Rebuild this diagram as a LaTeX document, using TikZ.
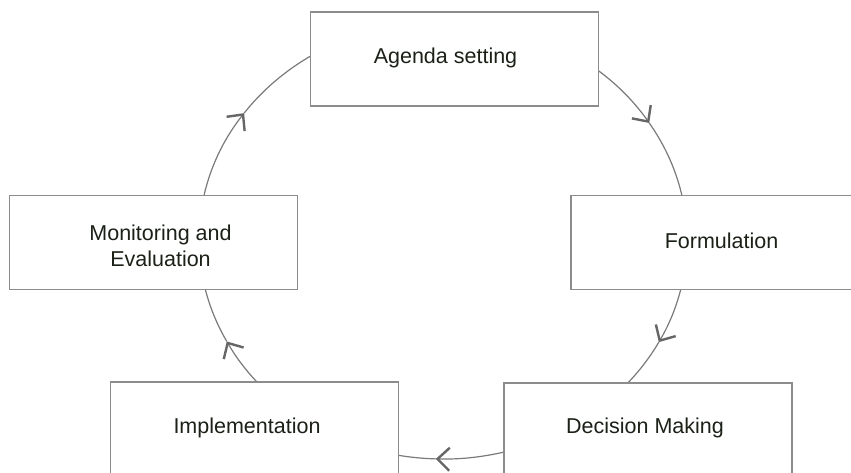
\documentclass[tikz,border=0pt]{standalone}
\usepackage{fontspec}
\setmainfont{Liberation Sans}
\usetikzlibrary{arrows.meta,calc,backgrounds}
\definecolor{boxline}{HTML}{8C8C8C}
\definecolor{cycleline}{HTML}{7A7A7A}
\definecolor{tipline}{HTML}{666666}
\definecolor{labeltext}{HTML}{1B2117}
\begin{document}
\begin{tikzpicture}[x=1pt,y=1pt,
  stage/.style={draw=boxline, line width=1.4pt, fill=white,
    minimum width=288pt, minimum height=94pt, inner sep=0pt},
  stagelabel/.style={text=labeltext, font=\fontsize{21.5}{26}\selectfont,
    align=center, anchor=base, inner sep=0pt},
  flow/.style={draw=cycleline, line width=1.2pt},
  flowtip/.style={flow,
    -{Straight Barb[length=12pt, width=23pt, line width=2.4pt, color=tipline]}},
  orbit/.style={x radius=244pt, y radius=219pt}
]
\useasboundingbox (0,0) rectangle (851,472);

% centre of the elliptical cycle
\coordinate (hub) at (443,232);

% the five stages
\node[stage] (agenda)    at (454.5,413)  {};
\node[stage] (formul)    at (715,229.5)  {};
\node[stage] (decision)  at (648,42)     {};
\node[stage] (implement) at (254.5,43)   {};
\node[stage] (monitor)   at (153.5,229.5){};

\node[stagelabel] (agenda-text)    at (445.5,408)  {Agenda setting};
\node[stagelabel] (formul-text)    at (721.5,223.7){Formulation};
\node[stagelabel] (decision-text)  at (645,39)     {Decision Making};
\node[stagelabel] (implement-text) at (247,38.7)   {Implementation};
% base anchor of a two-line label sits on its last line
\node[stagelabel] (monitor-text)   at (160.5,206)  {Monitoring and\\Evaluation};

% clockwise cycle drawn behind the stage boxes
\begin{scope}[on background layer]
  \fill[white] (0,0) rectangle (851,472);
  % agenda -> formulation
  \draw[flowtip] ($(hub)+(100:244pt and 219pt)$) arc[orbit, start angle=100, end angle=32.3];
  \draw[flow] ($(hub)+(32.3:244pt and 219pt)$) arc[orbit, start angle=32.3, end angle=-5];
  % formulation -> decision making
  \draw[flowtip] ($(hub)+(-5:244pt and 219pt)$) arc[orbit, start angle=-5, end angle=-27.8];
  \draw[flow] ($(hub)+(-27.8:244pt and 219pt)$) arc[orbit, start angle=-27.8, end angle=-70];
  % decision making -> implementation
  \draw[flowtip] ($(hub)+(-70:244pt and 219pt)$) arc[orbit, start angle=-70, end angle=-91.7];
  \draw[flow] ($(hub)+(-91.7:244pt and 219pt)$) arc[orbit, start angle=-91.7, end angle=-110];
  % implementation -> monitoring
  \draw[flowtip] ($(hub)+(250:244pt and 219pt)$) arc[orbit, start angle=250, end angle=207.6];
  \draw[flow] ($(hub)+(207.6:244pt and 219pt)$) arc[orbit, start angle=207.6, end angle=185];
  % monitoring -> agenda
  \draw[flowtip] ($(hub)+(185:244pt and 219pt)$) arc[orbit, start angle=185, end angle=144.6];
  \draw[flow] ($(hub)+(144.6:244pt and 219pt)$) arc[orbit, start angle=144.6, end angle=100];
\end{scope}
\end{tikzpicture}
\end{document}
